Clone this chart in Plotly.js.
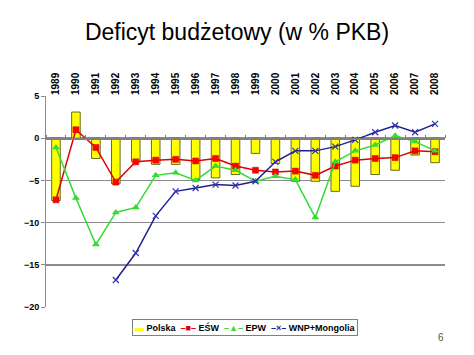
<!DOCTYPE html>
<html>
<head>
<meta charset="utf-8">
<script src="https://cdn.plot.ly/plotly-3.0.1.min.js"></script>
<style>html,body{margin:0;padding:0;background:#fff}#chart{width:474px;height:355px}</style>
</head>
<body>
<div id="chart"></div>
<script>
const years = ['1989','1990','1991','1992','1993','1994','1995','1996','1997','1998','1999','2000','2001','2002','2003','2004','2005','2006','2007','2008'];
const polska = [-7.4, 3.1, -2.4, -5.4, -2.8, -3.1, -3.1, -4.9, -4.7, -4.3, -1.8, -3.0, -5.1, -5.1, -6.3, -5.7, -4.3, -3.8, -2.0, -2.9];
const esw = [-7.3, 1.0, -1.1, -5.2, -2.8, -2.6, -2.5, -2.7, -2.4, -3.3, -3.8, -4.0, -3.9, -4.4, -3.3, -2.6, -2.4, -2.3, -1.5, -1.6];
const epw = [-1.1, -7.1, -12.6, -8.8, -8.2, -4.4, -4.1, -5.0, -3.3, -3.8, -5.1, -4.5, -4.9, -9.4, -2.8, -1.5, -0.8, 0.3, -0.4, -1.5];
const wnp = [null, null, null, -16.8, -13.6, -9.2, -6.3, -5.9, -5.5, -5.6, -5.1, -2.8, -1.5, -1.5, -1.0, -0.2, 0.7, 1.5, 0.7, 1.7];
const seriesNames = ['Polska', 'EŚW', 'EPW', 'WNP+Mongolia'];
const seriesColors = ['#FFFF00', '#E00000', '#33DD33', '#202090'];
const legendSymbols = ['▬', '–■–', '–▲–', '–×–'];

const fnt = {family: 'Arial, Liberation Sans, sans-serif', size: 9, color: '#000', weight: 'bold'};
const xfnt = {family: 'Arial, Liberation Sans, sans-serif', size: 10, color: '#000', weight: 'bold'};

const traces = [
  {type: 'bar', x: years, y: polska, name: seriesNames[0],
   marker: {color: seriesColors[0], line: {color: '#6B6B1A', width: 1}}},
  {type: 'scatter', mode: 'lines+markers', x: years, y: esw, name: seriesNames[1],
   line: {color: seriesColors[1], width: 1.5},
   marker: {symbol: 'square', size: 6, color: '#FF0000', line: {color: '#CC0000', width: 0.5}}},
  {type: 'scatter', mode: 'lines+markers', x: years, y: epw, name: seriesNames[2],
   line: {color: seriesColors[2], width: 1.5},
   marker: {symbol: 'triangle-up', size: 7, color: seriesColors[2]}},
  {type: 'scatter', mode: 'lines+markers', x: years, y: wnp, name: seriesNames[3],
   line: {color: seriesColors[3], width: 1.5},
   marker: {symbol: 'x-thin', size: 6, color: seriesColors[3], line: {color: '#3030B0', width: 1.2}}}
];

// compact legend built from the series names and colours
const legendText = seriesNames.map((n, i) =>
  '<span style="color:' + seriesColors[i] + '">' + legendSymbols[i] + '</span> ' + n
).join('  ');

const layout = {
  width: 474, height: 355,
  margin: {l: 46, r: 29, t: 96, b: 48},
  paper_bgcolor: '#fff', plot_bgcolor: '#fff',
  title: {text: 'Deficyt budżetowy (w % PKB)', x: 0.5, xanchor: 'center', y: 0.91, yanchor: 'middle',
          font: {family: 'Arial, Liberation Sans, sans-serif', size: 23, color: '#000'}},
  bargap: 0.57,
  showlegend: false,
  xaxis: {type: 'category', side: 'top', tickangle: -90, range: [-0.5, 19.5], autorange: false,
          showgrid: false, showline: false, ticks: '', tickfont: xfnt, zeroline: false, fixedrange: true},
  xaxis2: {overlaying: 'x', anchor: 'free', position: 0.8, side: 'top', range: [-0.5, 19.5], autorange: false,
           tick0: -0.5, dtick: 1, ticks: 'outside', ticklen: 3, tickcolor: '#808080',
           showticklabels: false, showgrid: false, showline: true, linecolor: '#808080', linewidth: 1.5,
           zeroline: false},
  yaxis: {range: [-20, 5], autorange: false, dtick: 5, showgrid: true, gridcolor: '#8C8C8C', gridwidth: 1.5,
          zeroline: false, showline: true, linecolor: '#8C8C8C', linewidth: 1,
          ticks: 'outside', ticklen: 4, tickcolor: '#8C8C8C', tickfont: fnt, fixedrange: true},
  annotations: [
    {text: legendText, xref: 'paper', yref: 'paper', x: 0.4987, y: -0.095, xanchor: 'center', yanchor: 'middle',
     showarrow: false, bgcolor: '#fff', bordercolor: '#808080', borderwidth: 1, borderpad: 2,
     font: {family: 'Arial, Liberation Sans, DejaVu Sans, sans-serif', size: 9, color: '#000', weight: 'bold'}},
    {text: '6', xref: 'paper', yref: 'paper', x: 0.99, y: -0.145, xanchor: 'center', yanchor: 'middle',
     showarrow: false, font: {family: 'Arial, Liberation Sans, sans-serif', size: 10, color: '#555'}}
  ]
};

// invisible helper trace so the overlaid boundary-tick axis is drawn
traces.push({type: 'scatter', x: [0], y: [0], xaxis: 'x2', mode: 'markers', marker: {opacity: 0}, showlegend: false, hoverinfo: 'skip'});

Plotly.newPlot('chart', traces, layout, {displayModeBar: false, staticPlot: true});
</script>
</body>
</html>
